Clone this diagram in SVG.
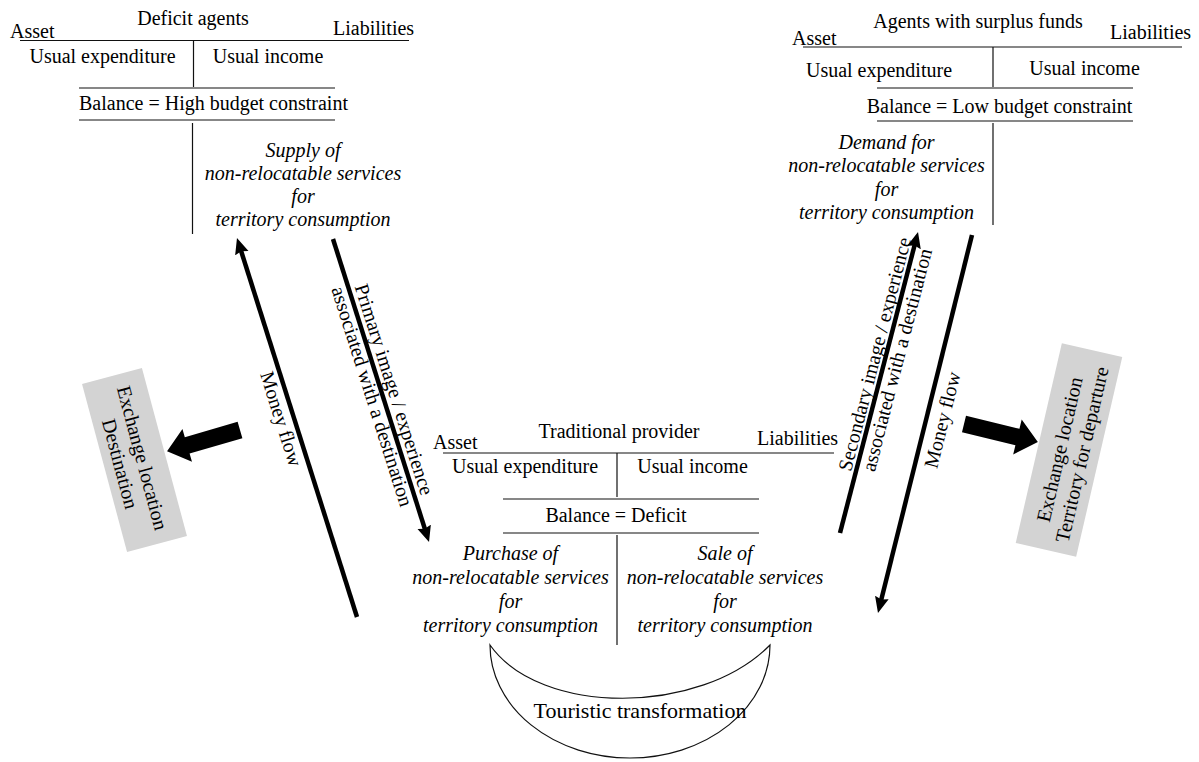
<svg xmlns="http://www.w3.org/2000/svg" width="1199" height="762" viewBox="0 0 1199 762" font-family="'Liberation Serif', 'Times New Roman', 'DejaVu Serif', serif">
<defs>
<style>
text{font-size:20px;fill:#000}
.m{text-anchor:middle}
.i{font-style:italic;text-anchor:middle}
.ln{stroke:#111;stroke-width:1.2;fill:none}
.ar{stroke:#000;stroke-width:4.5;fill:none;marker-end:url(#ah)}
.box{fill:#d3d3d3}
.blk{fill:#000}
</style>
<marker id="ah" markerUnits="userSpaceOnUse" markerWidth="18" markerHeight="16" refX="6" refY="7" orient="auto">
<path d="M0,0 L16,7 L0,14 L2,7 z" fill="#000"/>
</marker>
</defs>
<rect width="1199" height="762" fill="#fff"/>

<g id="deficit-agents">
<text x="10" y="37.5">Asset</text>
<text class="m" x="193" y="25">Deficit agents</text>
<text x="333" y="35">Liabilities</text>
<line class="ln" x1="20" y1="40.5" x2="409" y2="40.5"/>
<line class="ln" x1="193.5" y1="40.5" x2="193.5" y2="87"/>
<text class="m" x="102.5" y="63">Usual expenditure</text>
<text class="m" x="268" y="63">Usual income</text>
<line class="ln" x1="79" y1="88" x2="335" y2="88"/>
<text class="m" x="213.5" y="110">Balance = High budget constraint</text>
<line class="ln" x1="79" y1="120" x2="335" y2="120"/>
<line class="ln" x1="192.5" y1="123" x2="192.5" y2="234"/>
<text class="i" x="303" y="157">Supply of</text>
<text class="i" x="303" y="180">non-relocatable services</text>
<text class="i" x="303" y="203">for</text>
<text class="i" x="303" y="226">territory consumption</text>
</g>

<g id="surplus-agents">
<text x="792" y="45">Asset</text>
<text class="m" x="978" y="28">Agents with surplus funds</text>
<text x="1110" y="39">Liabilities</text>
<line class="ln" x1="803" y1="47" x2="1182" y2="47"/>
<line class="ln" x1="993" y1="47" x2="993" y2="87"/>
<text class="m" x="879" y="77">Usual expenditure</text>
<text class="m" x="1084.5" y="75">Usual income</text>
<line class="ln" x1="877" y1="88" x2="1133" y2="88"/>
<text class="m" x="999.5" y="113">Balance = Low budget constraint</text>
<line class="ln" x1="877" y1="121" x2="1133" y2="121"/>
<line class="ln" x1="993" y1="123" x2="993" y2="225"/>
<text class="i" x="886.5" y="149">Demand for</text>
<text class="i" x="886.5" y="172">non-relocatable services</text>
<text class="i" x="886.5" y="196">for</text>
<text class="i" x="886.5" y="219">territory consumption</text>
</g>

<g id="traditional-provider">
<text x="433" y="449">Asset</text>
<text class="m" x="619" y="438">Traditional provider</text>
<text x="757" y="445">Liabilities</text>
<line class="ln" x1="443" y1="453" x2="834" y2="453"/>
<line class="ln" x1="617" y1="453" x2="617" y2="497"/>
<text class="m" x="525" y="473">Usual expenditure</text>
<text class="m" x="692.5" y="473">Usual income</text>
<line class="ln" x1="503" y1="499" x2="759" y2="499"/>
<text class="m" x="616" y="522">Balance = Deficit</text>
<line class="ln" x1="503" y1="533" x2="759" y2="533"/>
<line class="ln" x1="617" y1="535" x2="617" y2="645"/>
<text class="i" x="510.5" y="560">Purchase of</text>
<text class="i" x="510.5" y="584">non-relocatable services</text>
<text class="i" x="510.5" y="608">for</text>
<text class="i" x="510.5" y="632">territory consumption</text>
<text class="i" x="725" y="560">Sale of</text>
<text class="i" x="725" y="584">non-relocatable services</text>
<text class="i" x="725" y="608">for</text>
<text class="i" x="725" y="632">territory consumption</text>
</g>

<g id="touristic-transformation">
<path class="ln" d="M490,645 A140,113 0 0 0 770,645 C700,716 540,716 490,645 z"/>
<text class="m" x="640" y="718" style="font-size:22px">Touristic transformation</text>
</g>

<g id="exchange-destination">
<rect class="box" x="-31" y="-87" width="62" height="174" transform="translate(134.5,460) rotate(-15)"/>
<g transform="translate(131,461) rotate(75)">
<text class="m" x="0" y="-5">Exchange location</text>
<text class="m" x="0" y="18">Destination</text>
</g>
</g>

<g id="exchange-departure">
<rect class="box" x="-31" y="-102.5" width="62" height="205" transform="translate(1069,450) rotate(13)"/>
<g transform="translate(1071,452) rotate(-77)">
<text class="m" x="0" y="-5">Exchange location</text>
<text class="m" x="0" y="18">Territory for departure</text>
</g>
</g>

<g id="connectors">
<line class="ar" x1="357" y1="617" x2="240" y2="247.5"/>
<line class="ar" x1="333" y1="239" x2="426" y2="532.5"/>
<line class="ar" x1="840" y1="533" x2="915.5" y2="241.7"/>
<line class="ar" x1="972" y1="235" x2="880.4" y2="603.3"/>
<polygon class="blk" points="0,-8.5 55,-8.5 55,-17 76,0 55,17 55,8.5 0,8.5" transform="translate(240,430) rotate(163.7)"/>
<polygon class="blk" points="0,-8.5 55,-8.5 55,-18 76,0 55,18 55,8.5 0,8.5" transform="translate(964,424) rotate(13.7)"/>
<text class="m" x="0" y="0" transform="translate(274.8,420.8) rotate(72.4)">Money flow</text>
<g transform="translate(383,393) rotate(72.4)">
<text class="m" x="0" y="-5">Primary image / experience</text>
<text class="m" x="0" y="18">associated with a destination</text>
</g>
<g transform="translate(886,357) rotate(-75.5)">
<text class="m" x="0" y="-5">Secondary image / experience</text>
<text class="m" x="0" y="18">associated with a destination</text>
</g>
<text class="m" x="0" y="0" transform="translate(948.8,421.5) rotate(-76)">Money flow</text>
</g>
</svg>
